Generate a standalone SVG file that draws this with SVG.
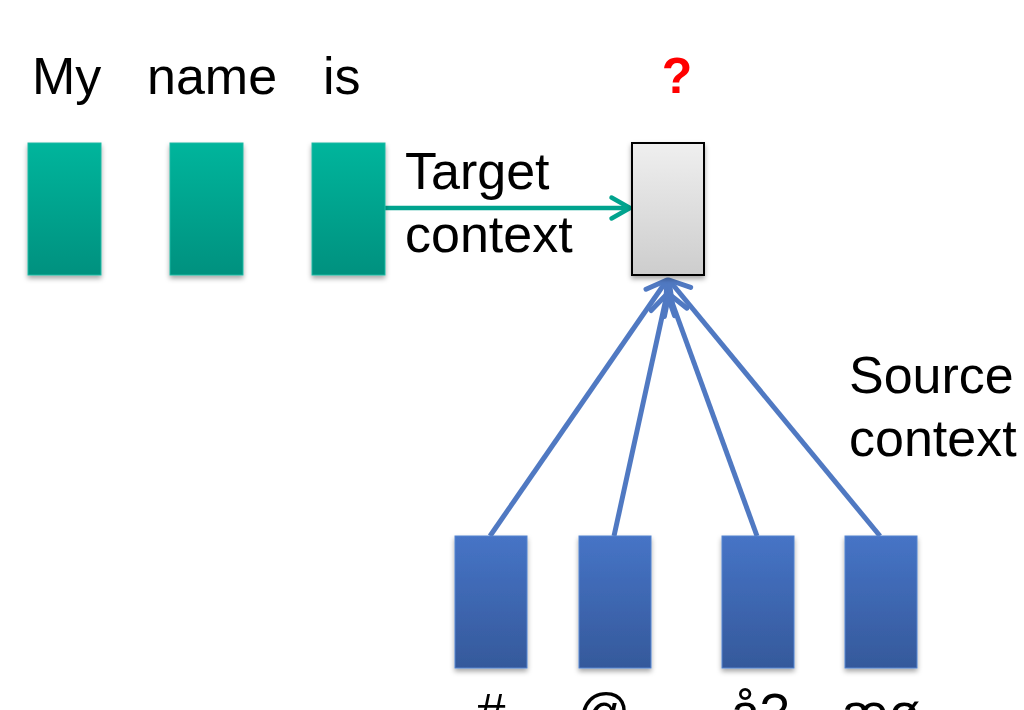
<svg xmlns="http://www.w3.org/2000/svg" width="1024" height="710" viewBox="0 0 1024 710">
  <defs>
    <linearGradient id="gGreen" x1="0" y1="0" x2="0" y2="1">
      <stop offset="0" stop-color="#00B59C"/>
      <stop offset="1" stop-color="#00917F"/>
    </linearGradient>
    <linearGradient id="gBlue" x1="0" y1="0" x2="0" y2="1">
      <stop offset="0" stop-color="#4674C6"/>
      <stop offset="1" stop-color="#35599B"/>
    </linearGradient>
    <linearGradient id="gGray" x1="0" y1="0" x2="0" y2="1">
      <stop offset="0" stop-color="#EFEFEF"/>
      <stop offset="1" stop-color="#CDCDCD"/>
    </linearGradient>
    <filter id="shadow" x="-20%" y="-20%" width="140%" height="140%">
      <feDropShadow dx="0" dy="3" stdDeviation="2.5" flood-color="#000" flood-opacity="0.35"/>
    </filter>
    <marker id="headGreen" viewBox="0 0 12 12" refX="10.5" refY="6" markerWidth="12" markerHeight="12" markerUnits="userSpaceOnUse" orient="auto" overflow="visible">
      <path d="M-8,-4.5 L10.5,6 L-8,16.5" fill="none" stroke="#00A38E" stroke-width="4.5" stroke-linecap="round" stroke-linejoin="round"/>
    </marker>
    <marker id="headBlue" viewBox="0 0 12 12" refX="10.5" refY="6" markerWidth="12" markerHeight="12" markerUnits="userSpaceOnUse" orient="auto" overflow="visible">
      <path d="M-9,-6 L10.5,6 L-9,18" fill="none" stroke="#5079C2" stroke-width="5" stroke-linecap="round" stroke-linejoin="round"/>
    </marker>
  </defs>
  <style>
    .lbl { font-family: "Liberation Sans", Arial, sans-serif; font-size: 52px; fill: #000; }
    .q { font-family: "Liberation Sans", Arial, sans-serif; font-size: 50px; font-weight: bold; fill: #FF0000; }
    .tgt { fill: url(#gGreen); stroke: #1FB8A3; stroke-width: 1; filter: url(#shadow); }
    .src { fill: url(#gBlue); stroke: #5584CF; stroke-width: 1; filter: url(#shadow); }
    .out { fill: url(#gGray); stroke: #000; stroke-width: 2; filter: url(#shadow); }
    .cg { fill: none; stroke: #00A38E; stroke-width: 4.5; }
    .cb { fill: none; stroke: #5079C2; stroke-width: 5; }
  </style>

  <!-- connectors -->
  <g id="connectors">
    <line class="cg" x1="385" y1="208" x2="630" y2="208" marker-end="url(#headGreen)"/>
    <line class="cb" x1="490" y1="536" x2="667" y2="280" marker-end="url(#headBlue)"/>
    <line class="cb" x1="614" y1="536" x2="667" y2="294" marker-end="url(#headBlue)"/>
    <line class="cb" x1="757" y1="536" x2="669" y2="294" marker-end="url(#headBlue)"/>
    <line class="cb" x1="880" y1="536" x2="669" y2="280" marker-end="url(#headBlue)"/>
  </g>

  <!-- target-side words -->
  <g id="word-my">
    <text class="lbl" x="32" y="94">My</text>
    <rect class="tgt" x="28" y="143" width="73" height="132"/>
  </g>
  <g id="word-name">
    <text class="lbl" x="147" y="94">name</text>
    <rect class="tgt" x="170" y="143" width="73" height="132"/>
  </g>
  <g id="word-is">
    <text class="lbl" x="323" y="94">is</text>
    <rect class="tgt" x="312" y="143" width="73" height="132"/>
  </g>

  <!-- next word to predict -->
  <g id="next-word">
    <text class="q" x="677" y="93" text-anchor="middle">?</text>
    <rect class="out" x="632" y="143" width="72" height="132"/>
  </g>

  <g id="label-target">
    <text class="lbl" x="405" y="189">Target</text>
    <text class="lbl" x="405" y="252">context</text>
  </g>
  <g id="label-source">
    <text class="lbl" x="849" y="393">Source</text>
    <text class="lbl" x="849" y="456">context</text>
  </g>

  <!-- source-side tokens; their captions run past the bottom edge -->
  <g id="src-1">
    <rect class="src" x="455" y="536" width="72" height="132"/>
    <text class="lbl" x="491" y="730" text-anchor="middle">#</text>
  </g>
  <g id="src-2">
    <rect class="src" x="579" y="536" width="72" height="132"/>
    <text class="lbl" x="604" y="730" text-anchor="middle">@</text>
  </g>
  <g id="src-3">
    <rect class="src" x="722" y="536" width="72" height="132"/>
    <text class="lbl" x="760" y="730" text-anchor="middle">å?</text>
  </g>
  <g id="src-4">
    <rect class="src" x="845" y="536" width="72" height="132"/>
    <text class="lbl" x="881" y="730" text-anchor="middle">æø</text>
  </g>
</svg>
